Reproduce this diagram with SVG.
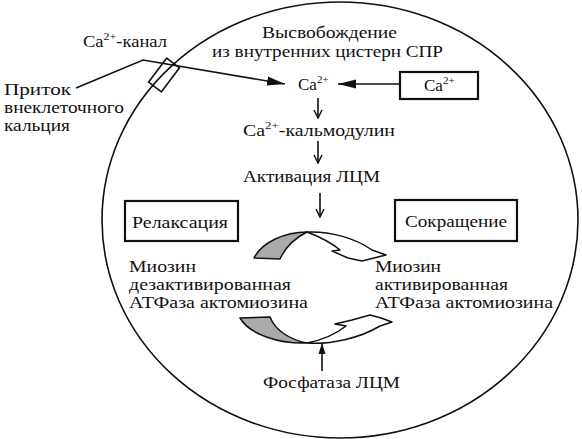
<svg xmlns="http://www.w3.org/2000/svg" width="582" height="439" viewBox="0 0 582 439" font-family="'Liberation Serif', 'Times New Roman', 'DejaVu Serif', serif">
<style>
text{font-family:'Liberation Serif','Times New Roman','DejaVu Serif',serif;font-size:17px;fill:#111}
.mid{text-anchor:middle}
.sup{font-size:11px}
.ln{fill:none;stroke:#111;stroke-width:1.6}
.box{fill:#fff;stroke:#111;stroke-width:2.2}
.wh{fill:#fff;stroke:#111;stroke-width:1.5;stroke-linejoin:round}
.gr{fill:#aaaaaa;stroke:#111;stroke-width:1.5;stroke-linejoin:round}
</style>
<defs>
<marker id="big" markerUnits="userSpaceOnUse" markerWidth="19" markerHeight="10" viewBox="0 0 19 10" refX="18" refY="5" orient="auto"><path d="M0,0.5 L18,5 L0,9.5 z" fill="#111"/></marker>
<marker id="small" markerUnits="userSpaceOnUse" markerWidth="10" markerHeight="10" viewBox="0 0 10 10" refX="9" refY="5" orient="auto"><path d="M1,1 L9,5 L1,9" fill="none" stroke="#111" stroke-width="1.5"/></marker>
<marker id="tri" markerUnits="userSpaceOnUse" markerWidth="12" markerHeight="8" viewBox="0 0 12 8" refX="11" refY="4" orient="auto"><path d="M0,0.5 L11,4 L0,7.5 z" fill="#111"/></marker>
</defs>
<rect width="582" height="439" fill="#fff"/>
<g id="cell"><ellipse cx="340" cy="220" rx="238" ry="218" class="ln" stroke-width="2"/></g>
<g id="channel"><rect x="-8" y="-15" width="16" height="30" class="ln" fill="#fff" stroke-width="1.8" transform="translate(164,75) rotate(37)"/><text x="83" y="47" textLength="84" lengthAdjust="spacingAndGlyphs">Ca<tspan class="sup" dy="-7">2+</tspan><tspan dy="7">-канал</tspan></text></g>
<g id="influx"><text x="4" y="95" textLength="67" lengthAdjust="spacingAndGlyphs">Приток</text><text x="4" y="113" textLength="120" lengthAdjust="spacingAndGlyphs">внеклеточного</text><text x="4" y="131" textLength="66" lengthAdjust="spacingAndGlyphs">кальция</text></g>
<g id="release"><text x="262" y="38" textLength="135" lengthAdjust="spacingAndGlyphs">Высвобождение</text><text x="212" y="57" textLength="231" lengthAdjust="spacingAndGlyphs">из внутренних цистерн СПР</text></g>
<g id="ca"><text x="298" y="90" font-size="18">Ca<tspan class="sup" dy="-7">2+</tspan></text></g>
<g id="store"><rect x="400" y="72" width="78" height="27" class="box"/><text x="424" y="91" font-size="18">Ca<tspan class="sup" dy="-7">2+</tspan></text></g>
<g id="calmodulin"><text x="243" y="136" textLength="152" lengthAdjust="spacingAndGlyphs">Ca<tspan class="sup" dy="-7">2+</tspan><tspan dy="7">-кальмодулин</tspan></text></g>
<g id="activation"><text x="243" y="182" textLength="137" lengthAdjust="spacingAndGlyphs">Активация ЛЦМ</text></g>
<g id="relax"><rect x="125" y="201" width="113" height="40" class="box"/><text x="132" y="228" textLength="96" lengthAdjust="spacingAndGlyphs">Релаксация</text></g>
<g id="contract"><rect x="395" y="200" width="122" height="41" class="box"/><text x="405" y="227" textLength="102" lengthAdjust="spacingAndGlyphs">Сокращение</text></g>
<g id="myosin-off"><text x="129" y="272" textLength="67" lengthAdjust="spacingAndGlyphs">Миозин</text><text x="129" y="290" textLength="162" lengthAdjust="spacingAndGlyphs">дезактивированная</text><text x="129" y="308" textLength="179" lengthAdjust="spacingAndGlyphs">АТФаза актомиозина</text></g>
<g id="myosin-on"><text x="375" y="272" textLength="66" lengthAdjust="spacingAndGlyphs">Миозин</text><text x="375" y="290" textLength="133" lengthAdjust="spacingAndGlyphs">активированная</text><text x="375" y="308" textLength="178" lengthAdjust="spacingAndGlyphs">АТФаза актомиозина</text></g>
<g id="phosphatase"><text x="263" y="388" textLength="137" lengthAdjust="spacingAndGlyphs">Фосфатаза ЛЦМ</text></g>
<g id="connectors">
<polyline points="76,88 143,60 285,84" class="ln" marker-end="url(#big)"/>
<line x1="400" y1="84" x2="338" y2="84" class="ln" marker-end="url(#big)"/>
<line x1="318" y1="98" x2="318" y2="118" class="ln" marker-end="url(#small)"/>
<line x1="318" y1="141" x2="318" y2="163" class="ln" marker-end="url(#small)"/>
<line x1="320" y1="193" x2="320" y2="217" class="ln" marker-end="url(#small)"/>
<line x1="322" y1="371" x2="322" y2="343" class="ln" marker-end="url(#tri)"/>
<path class="gr" d="M307,232 C285,232 262,242 254,258 L280,259 C285,248 295,238 307,232 Z"/>
<path class="wh" d="M307,232 C330,231 355,238 372,250 L386,255 L362,261 L348,258 L332,251 L340,250 C332,243 320,237 307,232 Z"/>
<path class="gr" d="M240,318 L270,317 C275,330 290,340 307,343 C280,344 250,335 240,318 Z"/>
<path class="wh" d="M307,343 C330,345 360,338 380,326 L392,322 L381,318 L370,315 L352,320 L335,324 L346,326 C336,334 322,340 307,343 Z"/>
</g>
</svg>
